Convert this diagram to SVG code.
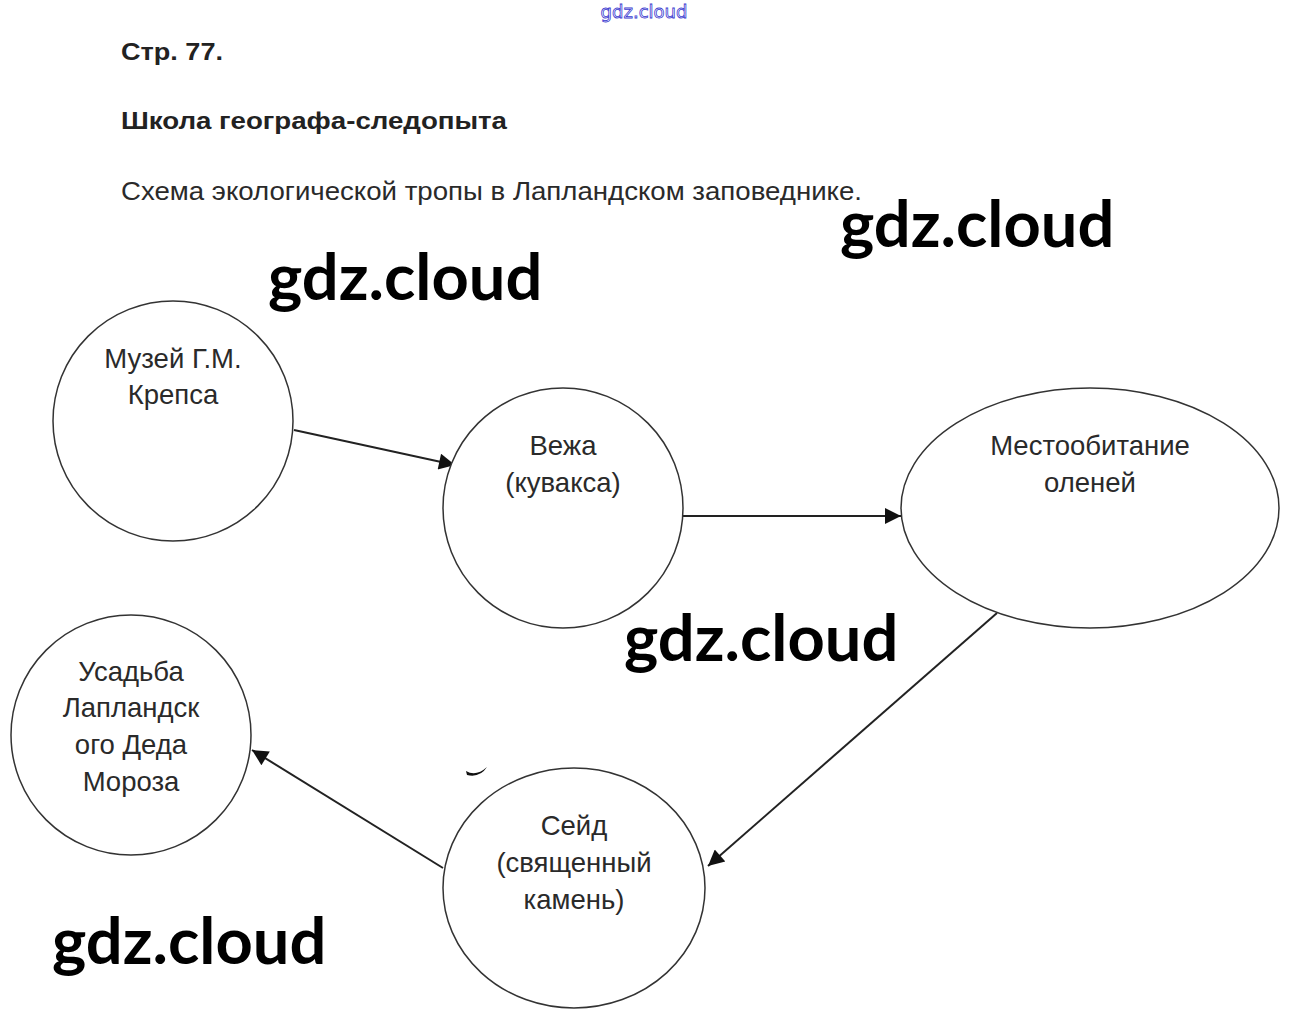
<svg xmlns="http://www.w3.org/2000/svg" width="1289" height="1025" viewBox="0 0 1289 1025">
<style>
.node{fill:#fff;stroke:#333;stroke-width:1.5}
.lbl{font-family:"Liberation Sans",Arial,sans-serif;font-size:27.5px;fill:#2a2a2a;text-anchor:middle}
.hdr{font-family:"Liberation Sans",Arial,sans-serif;font-weight:bold;font-size:24px;fill:#222}
.sub{font-family:"Liberation Sans",Arial,sans-serif;font-size:26px;fill:#2a2a2a}
.wm{font-family:Lato,"Open Sans",sans-serif;font-weight:bold;font-size:65px;fill:#000}
.edge{stroke:#222;stroke-width:2;fill:none;marker-end:url(#ah)}
</style>
<defs>
<marker id="ah" viewBox="0 0 10 10" refX="10" refY="5" markerWidth="10" markerHeight="8" markerUnits="strokeWidth" orient="auto">
<path d="M0,0 L10,5 L0,10 z" fill="#111"/>
</marker>
</defs>
<rect width="1289" height="1025" fill="#fff"/>
<text x="644" y="18" font-family="'DejaVu Sans',sans-serif" font-size="18" fill="#fff" stroke="#3a3ad0" stroke-width="0.8" text-anchor="middle">gdz.cloud</text>
<text class="hdr" x="121" y="60" textLength="102" lengthAdjust="spacingAndGlyphs">Стр. 77.</text>
<text class="hdr" x="121" y="129" textLength="386" lengthAdjust="spacingAndGlyphs">Школа географа-следопыта</text>
<text class="sub" x="121" y="200" textLength="741" lengthAdjust="spacingAndGlyphs">Схема экологической тропы в Лапландском заповеднике.</text>
<g id="connectors">
<line class="edge" x1="294" y1="430" x2="455" y2="465"/>
<line class="edge" x1="683" y1="516" x2="901" y2="516"/>
<line class="edge" x1="997" y1="613" x2="708" y2="866"/>
<line class="edge" x1="443" y1="868" x2="252" y2="750"/>
</g>
<g id="n1">
<ellipse class="node" cx="173" cy="421" rx="120" ry="120"/>
<text class="lbl" x="173" y="368">Музей Г.М.</text>
<text class="lbl" x="173" y="404">Крепса</text>
</g>
<g id="n2">
<ellipse class="node" cx="563" cy="508" rx="120" ry="120"/>
<text class="lbl" x="563" y="455">Вежа</text>
<text class="lbl" x="563" y="492">(кувакса)</text>
</g>
<g id="n3">
<ellipse class="node" cx="1090" cy="508" rx="189" ry="120"/>
<text class="lbl" x="1090" y="455">Местообитание</text>
<text class="lbl" x="1090" y="492">оленей</text>
</g>
<g id="n4">
<ellipse class="node" cx="131" cy="735" rx="120" ry="120"/>
<text class="lbl" x="131" y="681">Усадьба</text>
<text class="lbl" x="131" y="717">Лапландск</text>
<text class="lbl" x="131" y="754">ого Деда</text>
<text class="lbl" x="131" y="791">Мороза</text>
</g>
<g id="n5">
<ellipse class="node" cx="574" cy="888" rx="131" ry="120"/>
<text class="lbl" x="574" y="835">Сейд</text>
<text class="lbl" x="574" y="872">(священный</text>
<text class="lbl" x="574" y="909">камень)</text>
</g>
<path d="M466,771 Q476,777 487,767 Q480,778 467,775 z" fill="#111"/>
<text class="wm" x="840" y="247">gdz.cloud</text>
<text class="wm" x="268" y="300">gdz.cloud</text>
<text class="wm" x="624" y="661">gdz.cloud</text>
<text class="wm" x="52" y="964">gdz.cloud</text>
</svg>
